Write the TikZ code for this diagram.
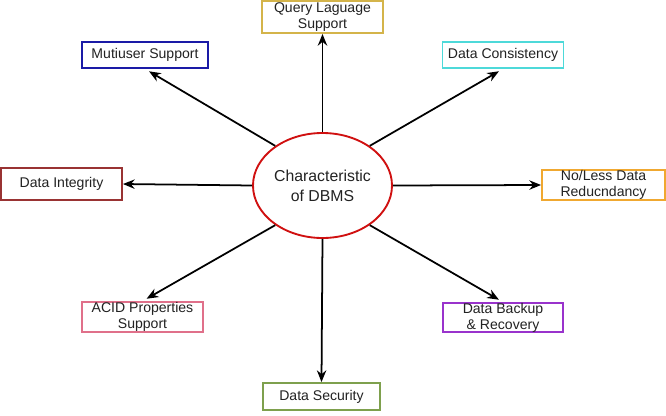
\documentclass[tikz,border=0pt]{standalone}
\usepackage{fontspec}
\setmainfont{Liberation Sans}
\usepackage{xcolor}
\usetikzlibrary{arrows.meta, shapes.geometric}
\newcommand{\pxu}{0.03cm}
\definecolor{qlcol}{HTML}{D4B44A}
\definecolor{mucol}{HTML}{1A1AA6}
\definecolor{dccol}{HTML}{4DD9D9}
\definecolor{dicol}{HTML}{993333}
\definecolor{rdcol}{HTML}{F0A830}
\definecolor{accol}{HTML}{E0708A}
\definecolor{bkcol}{HTML}{9933CC}
\definecolor{sccol}{HTML}{7EA04D}
\definecolor{elcol}{HTML}{D01010}
\definecolor{txtcol}{HTML}{222222}

\begin{document}
\begin{tikzpicture}[x=\pxu, y=-\pxu,
    featbox/.style={draw, line width=1.6pt, fill=white, inner sep=0pt, align=center,
      text=txtcol, font=\fontsize{12}{13.5}\selectfont},
    arr/.style={-{Stealth[length=10pt,width=8pt]}, line width=1.5pt}]
    \useasboundingbox (0,0) rectangle (666,415);
    % Mittelpunkt
    \node[ellipse, draw=elcol, line width=1.6pt, minimum width=139*\pxu, minimum height=105*\pxu,
      inner sep=0pt, align=center, text=txtcol, font=\fontsize{13.5}{17}\selectfont]
      (c) at (322.5,185.5) {Characteristic\\of DBMS};
    % Merkmale rundherum
    \node[featbox, draw=qlcol, minimum width=121*\pxu, minimum height=32*\pxu] (ql) at (322.5,17) {Query Laguage\\Support};
    \node[featbox, draw=mucol, minimum width=126*\pxu, minimum height=26*\pxu] (mu) at (145,55) {Mutiuser Support};
    \node[featbox, draw=dccol, minimum width=121*\pxu, minimum height=26*\pxu] (dc) at (503,55) {Data Consistency};
    \node[featbox, draw=dicol, minimum width=121*\pxu, minimum height=32*\pxu] (di) at (61.5,184) {Data Integrity};
    \node[featbox, draw=rdcol, minimum width=123*\pxu, minimum height=30*\pxu] (rd) at (603.5,185) {No/Less Data\\Reducndancy};
    \node[featbox, draw=accol, minimum width=121*\pxu, minimum height=30*\pxu] (ac) at (142.5,317) {ACID Properties\\Support};
    \node[featbox, draw=bkcol, minimum width=120*\pxu, minimum height=29*\pxu] (bk) at (503,317.5) {Data Backup\\\& Recovery};
    \node[featbox, draw=sccol, minimum width=117*\pxu, minimum height=27*\pxu] (sc) at (321.5,396.5) {Data Security};
    % Pfeile
    \foreach \a/\b in {c.north/ql.south, c.south/sc.north, c.west/di.east, c.east/rd.west} {
      \draw[arr] (\a) -- (\b);
    }
    \foreach \a/\b in {c.140/mu.south, c.40/dc.south, c.220/ac.north, c.320/bk.north} {
      \draw[arr, shorten >=4pt] (\a) -- (\b);
    }
\end{tikzpicture}
\end{document}
